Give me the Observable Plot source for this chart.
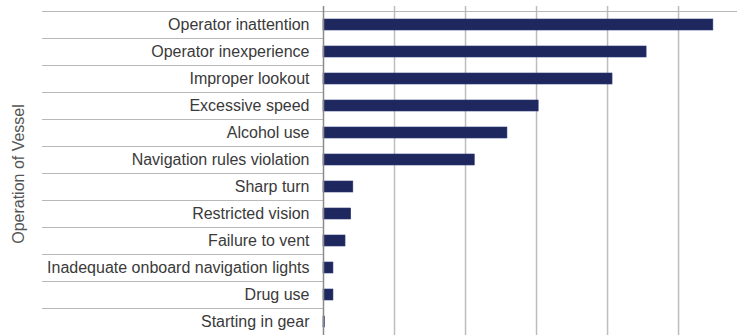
<!DOCTYPE html>
<html>
<head>
<meta charset="utf-8">
<script src="https://cdn.jsdelivr.net/npm/d3@7"></script>
<script src="https://cdn.jsdelivr.net/npm/@observablehq/plot@0.6"></script>
<style>
  html, body { margin: 0; padding: 0; background: #fff; overflow: hidden; }
  #chart svg { display: block; }
</style>
</head>
<body>
<div id="chart"></div>
<script>
const categories = [
  "Operator inattention",
  "Operator inexperience",
  "Improper lookout",
  "Excessive speed",
  "Alcohol use",
  "Navigation rules violation",
  "Sharp turn",
  "Restricted vision",
  "Failure to vent",
  "Inadequate onboard navigation lights",
  "Drug use",
  "Starting in gear"
];
const values = [549, 455, 407, 303, 259, 213, 42, 39, 31, 14, 14, 2];
const xTicks = [100, 200, 300, 400, 500];
const axisTitle = "Operation of Vessel";

const data = categories.map((c, i) => ({category: c, value: values[i]}));

const W = 737, H = 340, mL = 323, mT = 6, sepLeft = 42, titleX = 18, titleY = 174;

function separators(index, scales, channels, dims) {
  const y = scales.y;
  const bw = y.bandwidth ? y.bandwidth() : 0;
  const step = y.step ? y.step() : (dims.height - dims.marginTop - dims.marginBottom) / categories.length;
  const g = d3.create("svg:g");
  const lines = g.append("g").attr("stroke", "#b8b8b8").attr("stroke-width", 1.2);
  categories.forEach((c, i) => {
    const yy = Math.round(y(c) + bw / 2 - step / 2) + 0.5;
    lines.append("line")
      .attr("x1", sepLeft).attr("x2", i === 0 ? dims.width : dims.marginLeft)
      .attr("y1", yy).attr("y2", yy);
  });
  g.append("text")
    .attr("transform", `translate(${titleX},${titleY}) rotate(-90)`)
    .attr("text-anchor", "middle")
    .attr("dy", "0.35em")
    .attr("fill", "#555")
    .attr("font-size", 16)
    .text(axisTitle);
  return g.node();
}

const chart = Plot.plot({
  width: W,
  height: H,
  marginLeft: mL,
  marginRight: 0,
  marginTop: mT,
  marginBottom: 0,
  style: {fontFamily: "'Liberation Sans', Arial, sans-serif", fontSize: "16px", color: "#3a3a3a", background: "#fff"},
  x: {domain: [0, 583], axis: null},
  y: {domain: categories, paddingInner: 0.6, paddingOuter: 0.3, tickSize: 0, tickPadding: 14, label: null},
  marks: [
    Plot.ruleX(xTicks, {stroke: "#bdbdbd", strokeWidth: 1.5}),
    separators,
    Plot.barX(data, {x: "value", y: "category", fill: "#1f285e", stroke: "#2c3672", strokeWidth: 0.6}),
    Plot.ruleX([0], {stroke: "#8a8a8a", strokeWidth: 1.5})
  ]
});
document.getElementById("chart").appendChild(chart);
</script>
</body>
</html>
